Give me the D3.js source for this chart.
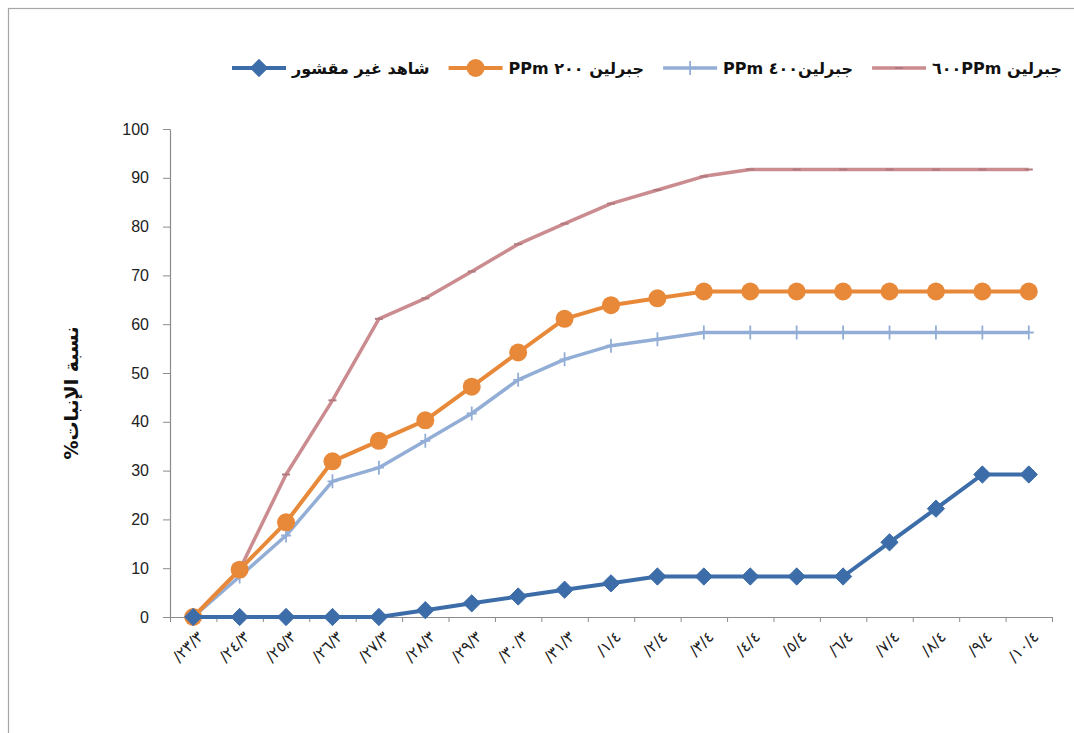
<!DOCTYPE html>
<html>
<head>
<meta charset="utf-8">
<script src="https://cdn.jsdelivr.net/npm/d3@7"></script>
<style>
  html, body { margin: 0; padding: 0; background: #fff; }
  svg { display: block; }
</style>
</head>
<body>
<svg id="chart" width="1074" height="733"></svg>
<script>
// Dates of the germination counts (day/month)
const categories = ["/٢٣/٣","/٢٤/٣","/٢٥/٣","/٢٦/٣","/٢٧/٣","/٢٨/٣","/٢٩/٣","/٣٠/٣","/٣١/٣",
                    "/١/٤","/٢/٤","/٣/٤","/٤/٤","/٥/٤","/٦/٤","/٧/٤","/٨/٤","/٩/٤","/١٠/٤"];

// Germination percentage per treatment
const control = [0,0,0,0,0,1.4,2.8,4.2,5.6,6.9,8.3,8.3,8.3,8.3,8.3,15.3,22.2,29.2,29.2];
const ga200   = [0,9.7,19.4,31.9,36.1,40.3,47.2,54.2,61.1,63.9,65.3,66.7,66.7,66.7,66.7,66.7,66.7,66.7,66.7];
const ga400   = [0,8.3,16.7,27.8,30.6,36.1,41.7,48.6,52.8,55.6,56.9,58.3,58.3,58.3,58.3,58.3,58.3,58.3,58.3];
const ga600   = [0,9.7,29.2,44.4,61.1,65.3,70.8,76.4,80.6,84.7,87.5,90.3,91.7,91.7,91.7,91.7,91.7,91.7,91.7];

const seriesNames = ["شاهد غير مقشور", "جبرلين ٢٠٠ PPm", "جبرلين٤٠٠ PPm", "جبرلين ٦٠٠PPm"];
const yTicks = [0,10,20,30,40,50,60,70,80,90,100];
const yTitle = "نسبة الإنبات%";

const series = [
  { name: seriesNames[0], values: control, color: "#3D6DA9", width: 4,   marker: "diamond" },
  { name: seriesNames[1], values: ga200,   color: "#E8893A", width: 4,   marker: "circle" },
  { name: seriesNames[2], values: ga400,   color: "#93AED6", width: 3.5, marker: "plus" },
  { name: seriesNames[3], values: ga600,   color: "#CB8C90", width: 3.5, marker: "dash" }
];

const svg = d3.select("#chart");
const W = 1074, H = 733;
const plot = { left: 170, right: 1052, top: 129, bottom: 617 };

svg.append("rect").attr("width", W).attr("height", H).attr("fill", "#fff");
// outer chart frame
svg.append("rect")
  .attr("x", 8.5).attr("y", 8.5).attr("width", W + 20).attr("height", H + 20)
  .attr("fill", "none").attr("stroke", "#a6a6a6").attr("stroke-width", 1.2);

const x = d3.scaleBand().domain(categories).range([plot.left, plot.right]).padding(0);
const cx = d => x(d) + x.bandwidth() / 2;
const y = d3.scaleLinear().domain([0, 100]).range([plot.bottom, plot.top]);

// Y axis
const yAxis = svg.append("g")
  .attr("transform", `translate(${plot.left},0)`)
  .call(d3.axisLeft(y).tickValues(yTicks).tickSize(7).tickSizeOuter(0).tickPadding(14));
yAxis.select(".domain").attr("stroke", "#8c8c8c").attr("stroke-width", 1.2);
yAxis.selectAll(".tick line").attr("stroke", "#8c8c8c");
yAxis.selectAll(".tick text")
  .attr("font-family", "'Liberation Sans', Arial, sans-serif")
  .attr("font-size", 16).attr("fill", "#222");

// X axis: tick marks on category boundaries
const edges = d3.scaleLinear().domain([0, categories.length]).range([plot.left, plot.right]);
const xAxis = svg.append("g")
  .attr("transform", `translate(0,${plot.bottom})`)
  .call(d3.axisBottom(edges).tickValues(d3.range(categories.length + 1)).tickFormat("").tickSize(5).tickSizeOuter(0));
xAxis.select(".domain").attr("stroke", "#8c8c8c").attr("stroke-width", 1.2);
xAxis.selectAll(".tick line").attr("stroke", "#8c8c8c");

// X labels, rotated
svg.append("g").selectAll("text")
  .data(categories)
  .join("text")
  .attr("transform", d => `translate(${cx(d) + 7},${plot.bottom + 17}) rotate(-45)`)
  .attr("text-anchor", "end")
  .attr("dy", "0.35em")
  .attr("direction", "ltr")
  .attr("font-family", "'DejaVu Sans', sans-serif")
  .attr("font-size", 15.5)
  .attr("fill", "#222")
  .text(d => d);

// Y title
svg.append("text")
  .attr("transform", `translate(78,${(plot.top + plot.bottom) / 2 + 20}) rotate(-90)`)
  .attr("text-anchor", "middle")
  .attr("direction", "rtl")
  .attr("font-family", "'DejaVu Sans', sans-serif")
  .attr("font-weight", "bold")
  .attr("font-size", 19)
  .attr("fill", "#111")
  .text(yTitle);

// Marker drawing helper
function drawMarker(g, type, color, px, py) {
  if (type === "diamond") {
    g.append("path").attr("d", d3.symbol(d3.symbolDiamond2, 190)())
      .attr("transform", `translate(${px},${py})`).attr("fill", color).attr("stroke", color).attr("stroke-width", 1);
  } else if (type === "circle") {
    g.append("circle").attr("cx", px).attr("cy", py).attr("r", 9).attr("fill", color);
  } else if (type === "plus") {
    g.append("path").attr("d", `M${px - 5},${py}H${px + 5}M${px},${py - 7}V${py + 7}`)
      .attr("stroke", color).attr("stroke-width", 1.8).attr("fill", "none");
  } else if (type === "dash") {
    g.append("path").attr("d", `M${px - 4},${py}H${px + 4}`)
      .attr("stroke", d3.color(color).darker(0.4)).attr("stroke-width", 2).attr("fill", "none");
  }
}

const line = d3.line().x((d, i) => cx(categories[i])).y(d => y(d));

// Draw series (pink first so the control series ends up on top)
[3, 2, 1, 0].forEach(k => {
  const s = series[k];
  const g = svg.append("g");
  g.append("path").datum(s.values).attr("d", line)
    .attr("fill", "none").attr("stroke", s.color).attr("stroke-width", s.width)
    .attr("stroke-linejoin", "round");
  s.values.forEach((v, i) => drawMarker(g, s.marker, s.color, cx(categories[i]), y(v)));
});

// Legend (left to right)
const legend = svg.append("g");
let lx = 232;
const ly = 68;
series.forEach(s => {
  const g = legend.append("g");
  g.append("line").attr("x1", lx).attr("x2", lx + 54).attr("y1", ly).attr("y2", ly)
    .attr("stroke", s.color).attr("stroke-width", s.width);
  drawMarker(g, s.marker, s.color, lx + 27, ly);
  const t = g.append("text")
    .attr("y", ly).attr("dy", "0.35em")
    .attr("direction", "rtl")
    .attr("text-anchor", "middle")
    .attr("font-family", "'DejaVu Sans', sans-serif")
    .attr("font-weight", "bold")
    .attr("font-size", 16)
    .attr("fill", "#111")
    .text(s.name);
  const w = t.node().getComputedTextLength();
  t.attr("x", lx + 60 + w / 2);
  lx += 60 + w + 19;
});
</script>
</body>
</html>
